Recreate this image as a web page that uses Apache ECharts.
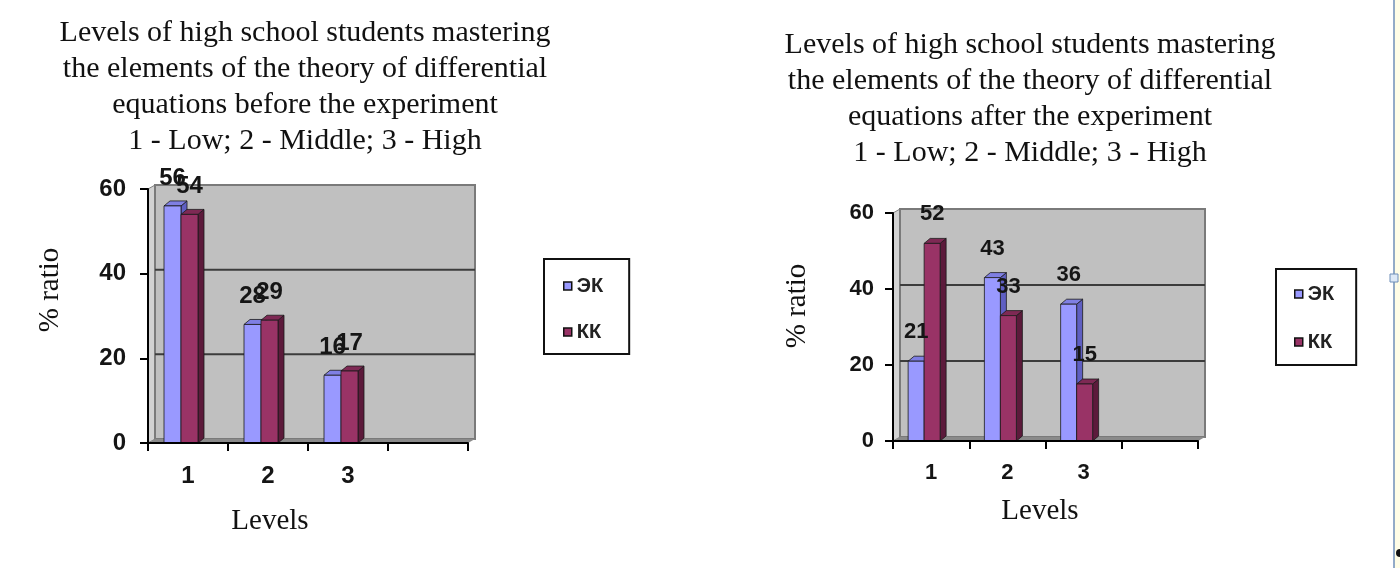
<!DOCTYPE html>
<html lang="en">
<head>
<meta charset="UTF-8">
<title>Levels of high school students mastering differential equations</title>
<style>
  html, body {margin:0; padding:0; background:#fff;}
  #chart {width:1400px; height:568px;}
</style>
<script src="https://cdn.jsdelivr.net/npm/echarts@6/dist/echarts.min.js"></script>
</head>
<body>
<div id="chart"></div>
<script>
// data
var categories = ['1', '2', '3', ''];
var yTicks = [0, 20, 40, 60];
var seriesNames = ['ЭК', 'КК'];
var beforeEK = [56, 28, 16];
var beforeKK = [54, 29, 17];
var afterEK = [21, 43, 36];
var afterKK = [52, 33, 15];

var titleBefore = 'Levels of high school students mastering\nthe elements of the theory of differential\nequations before the experiment\n1 - Low; 2 - Middle; 3 - High';
var titleAfter = 'Levels of high school students mastering\nthe elements of the theory of differential\nequations after the experiment\n1 - Low; 2 - Middle; 3 - High';

var serif = '"Liberation Serif", "Times New Roman", serif';
var sans = '"Liberation Sans", Arial, sans-serif';

var faces = [
    {front: '#9999ff', top: '#7f7fe3', side: '#5f5fc2'},
    {front: '#993366', top: '#7e2954', side: '#5c1a3b'}
];

function pairs(arr) {
    return arr.map(function (v, i) { return [i, v]; });
}

// grey back wall, side wall, floor and grid lines (pseudo 3D)
function wallItem(params, api) {
    var cs = params.coordSys;
    var dx = 7, dy = 4;
    var x = cs.x, y = cs.y, w = cs.width, h = cs.height;
    var kids = [
        {type: 'polygon', shape: {points: [[x, y], [x + dx, y - dy], [x + dx, y + h - dy], [x, y + h]]},
            style: {fill: '#d2d2d2', stroke: '#808080', lineWidth: 1}},
        {type: 'rect', shape: {x: x + dx, y: y - dy, width: w, height: h},
            style: {fill: '#c0c0c0', stroke: '#7a7a7a', lineWidth: 2}},
        {type: 'polygon', shape: {points: [[x, y + h], [x + dx, y + h - dy], [x + w + dx, y + h - dy], [x + w, y + h]]},
            style: {fill: '#8a8a8a'}}
    ];
    yTicks.forEach(function (v) {
        if (v > yTicks[0] && v < yTicks[yTicks.length - 1]) {
            var py = api.coord([0, v])[1] - dy;
            kids.push({type: 'line', shape: {x1: x + dx, y1: py, x2: x + w + dx, y2: py},
                style: {stroke: '#3c3c3c', lineWidth: 2}});
        }
    });
    return {type: 'group', children: kids};
}

function barRenderer(s, bw, labelGap, fontSize) {
    return function (params, api) {
        var cat = api.value(0), val = api.value(1);
        var top = api.coord([cat, val]);
        var base = api.coord([cat, 0]);
        var dx = 6, dy = 5;
        var x0 = top[0] - 7 + (s === 0 ? -bw : 0);
        var t = top[1], b = base[1];
        var c = faces[s];
        return {type: 'group', children: [
            {type: 'polygon', shape: {points: [[x0 + bw, t], [x0 + bw + dx, t - dy], [x0 + bw + dx, b - dy], [x0 + bw, b]]},
                style: {fill: c.side, stroke: '#1a1a1a', lineWidth: 0.8}},
            {type: 'polygon', shape: {points: [[x0, t], [x0 + dx, t - dy], [x0 + bw + dx, t - dy], [x0 + bw, t]]},
                style: {fill: c.top, stroke: '#1a1a1a', lineWidth: 0.8}},
            {type: 'rect', shape: {x: x0, y: t, width: bw, height: b - t},
                style: {fill: c.front, stroke: '#1a1a1a', lineWidth: 0.8}},
            {type: 'text', z2: 100, style: {x: x0 + bw / 2, y: t - labelGap, text: String(val),
                textAlign: 'center', textVerticalAlign: 'middle',
                font: 'bold ' + fontSize + 'px ' + sans, fill: '#151515'}}
        ]};
    };
}

function xAxisFor(gi, fs, margin) {
    return {
        type: 'category', gridIndex: gi, data: categories, boundaryGap: true, z: 5,
        axisLine: {lineStyle: {color: '#000', width: 2}},
        axisTick: {show: true, length: 8, lineStyle: {color: '#000', width: 2}},
        axisLabel: {fontFamily: sans, fontWeight: 'bold', fontSize: fs, color: '#151515', margin: margin},
        splitLine: {show: false}
    };
}

function yAxisFor(gi, fs, margin) {
    return {
        type: 'value', gridIndex: gi, min: yTicks[0], max: yTicks[yTicks.length - 1], interval: 20, z: 5,
        axisLine: {show: true, lineStyle: {color: '#000', width: 2}},
        axisTick: {show: true, length: 8, lineStyle: {color: '#000', width: 2}},
        axisLabel: {fontFamily: sans, fontWeight: 'bold', fontSize: fs, color: '#151515', margin: margin},
        splitLine: {show: false}
    };
}

function legendAt(left, top, padding, gap) {
    return {
        data: seriesNames, orient: 'vertical', left: left, top: top, padding: padding, itemGap: gap,
        itemWidth: 8, itemHeight: 8, icon: 'rect', selectedMode: false,
        borderColor: '#111', borderWidth: 2, backgroundColor: '#fff',
        itemStyle: {borderColor: '#111', borderWidth: 1.5},
        textStyle: {fontFamily: sans, fontWeight: 'bold', fontSize: 20, color: '#222'}
    };
}

function axisName(text, x, y, rot) {
    return {type: 'text', x: x, y: y, rotation: rot || 0,
        style: {text: text, textAlign: 'center', textVerticalAlign: 'middle',
            font: '29px ' + serif, fill: '#111'}};
}

var chart = echarts.init(document.getElementById('chart'));
chart.setOption({
    backgroundColor: '#fff',
    animation: false,
    title: [
        {text: titleBefore, left: 305, top: 15, textAlign: 'center', padding: 0,
            textStyle: {fontFamily: serif, fontSize: 30, lineHeight: 36, fontWeight: 'normal', color: '#111'}},
        {text: titleAfter, left: 1030, top: 27, textAlign: 'center', padding: 0,
            textStyle: {fontFamily: serif, fontSize: 30, lineHeight: 36, fontWeight: 'normal', color: '#111'}}
    ],
    legend: [
        legendAt(544, 259, [17, 26, 12, 19], 26),
        legendAt(1276, 269, [15, 22, 13, 18], 28)
    ],
    grid: [
        {left: 148, top: 189, width: 320, height: 254},
        {left: 893, top: 213, width: 305, height: 228}
    ],
    xAxis: [xAxisFor(0, 24, 21), xAxisFor(1, 22, 21)],
    yAxis: [yAxisFor(0, 24, 22), yAxisFor(1, 22, 19)],
    series: [
        {type: 'custom', xAxisIndex: 0, yAxisIndex: 0, renderItem: wallItem, data: [[0, 0]], silent: true, z: 1},
        {type: 'custom', name: seriesNames[0], xAxisIndex: 0, yAxisIndex: 0, renderItem: barRenderer(0, 17, 28, 24),
            data: pairs(beforeEK), encode: {x: 0, y: 1}, itemStyle: {color: faces[0].front}, z: 2},
        {type: 'custom', name: seriesNames[1], xAxisIndex: 0, yAxisIndex: 0, renderItem: barRenderer(1, 17, 28, 24),
            data: pairs(beforeKK), encode: {x: 0, y: 1}, itemStyle: {color: faces[1].front}, z: 2},
        {type: 'custom', xAxisIndex: 1, yAxisIndex: 1, renderItem: wallItem, data: [[0, 0]], silent: true, z: 1},
        {type: 'custom', name: seriesNames[0], xAxisIndex: 1, yAxisIndex: 1, renderItem: barRenderer(0, 16, 29, 22),
            data: pairs(afterEK), encode: {x: 0, y: 1}, itemStyle: {color: faces[0].front}, z: 2},
        {type: 'custom', name: seriesNames[1], xAxisIndex: 1, yAxisIndex: 1, renderItem: barRenderer(1, 16, 29, 22),
            data: pairs(afterKK), encode: {x: 0, y: 1}, itemStyle: {color: faces[1].front}, z: 2}
    ],
    graphic: [
        axisName('% ratio', 50, 290, Math.PI / 2),
        axisName('% ratio', 797, 306, Math.PI / 2),
        axisName('Levels', 270, 521),
        axisName('Levels', 1040, 511),
        // window edge seen at the right of the screenshot
        {type: 'rect', shape: {x: 1394, y: 0, width: 6, height: 568}, style: {fill: '#fffde6'}},
        {type: 'line', shape: {x1: 1394, y1: 0, x2: 1394, y2: 568}, style: {stroke: '#6f8fb8', lineWidth: 1.5}},
        {type: 'rect', shape: {x: 1390, y: 274, width: 8, height: 8}, style: {fill: '#dde9f7', stroke: '#6f8fb8', lineWidth: 1}},
        {type: 'circle', shape: {cx: 1400, cy: 553, r: 4}, style: {fill: '#111'}}
    ]
});
</script>
</body>
</html>
